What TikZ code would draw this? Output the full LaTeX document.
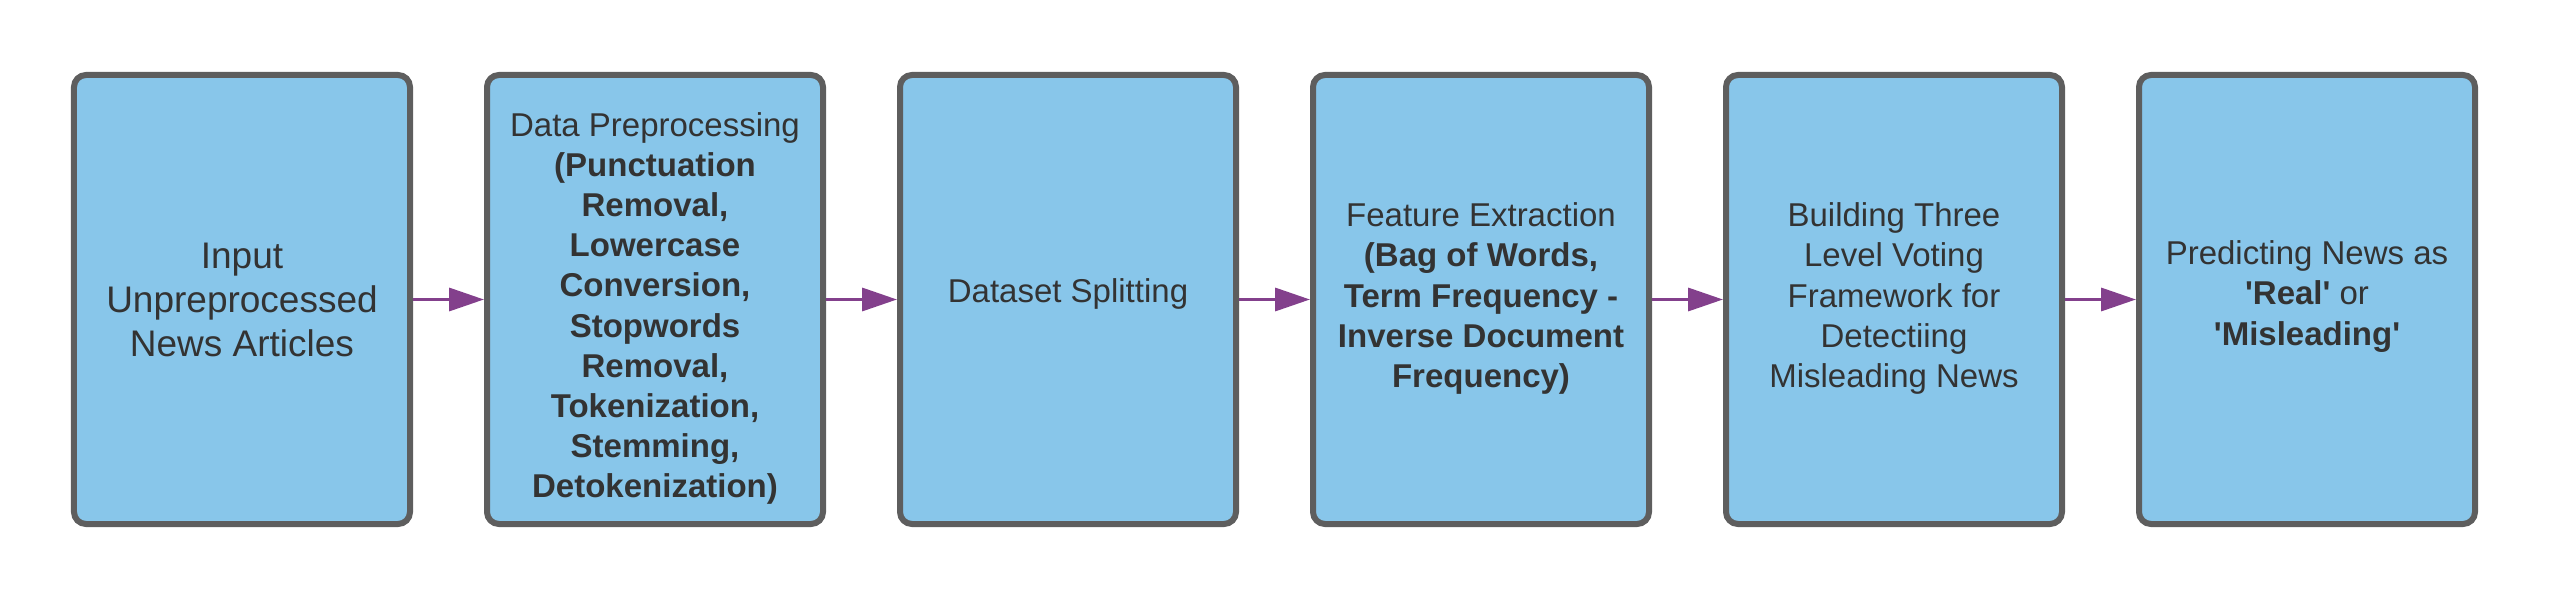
\documentclass[tikz,border=0pt]{standalone}
\usepackage{fontspec}
\newfontfamily\lsans{Liberation Sans}
\usetikzlibrary{arrows.meta}
\definecolor{boxfill}{HTML}{88C6EA}
\definecolor{boxline}{HTML}{5E5E5E}
\definecolor{arrcol}{HTML}{83408C}
\definecolor{txt}{HTML}{333333}
\begin{document}
\begin{tikzpicture}[x=1bp,y=-1bp,
  stepbox/.style={draw=boxline, fill=boxfill, line width=6bp, rounded corners=12bp,
    minimum width=336bp, minimum height=449bp, inner sep=0pt},
  steptext/.style={inner sep=0pt, align=center,
    text=txt, font=\lsans\fontsize{33bp}{40.1bp}\selectfont},
  bigtext/.style={font=\lsans\fontsize{37bp}{44bp}\selectfont},
  arr/.style={draw=arrcol, line width=3.5bp, -{Triangle[length=35bp,width=23bp]}}]
\useasboundingbox (0,0) rectangle (2550,600);
\node[stepbox] (b1) at (242,299.5) {};
\node[stepbox] (b2) at (655,299.5) {};
\node[stepbox] (b3) at (1068,299.5) {};
\node[stepbox] (b4) at (1481,299.5) {};
\node[stepbox] (b5) at (1894,299.5) {};
\node[stepbox] (b6) at (2307,299.5) {};
\node[steptext,bigtext] (t1) at (b1.center) {Input\\Unpreprocessed\\News Articles};
\node[steptext] (t2) at ([yshift=-9bp]b2.center) {Data Preprocessing\\\textbf{(Punctuation}\\\textbf{Removal,}\\\textbf{Lowercase}\\\textbf{Conversion,}\\\textbf{Stopwords}\\\textbf{Removal,}\\\textbf{Tokenization,}\\\textbf{Stemming,}\\\textbf{Detokenization)}};
\node[steptext] (t3) at ([yshift=6bp]b3.center) {Dataset Splitting};
\node[steptext] (t4) at ([yshift=1bp]b4.center) {Feature Extraction\\\textbf{(Bag of Words,}\\\textbf{Term Frequency -}\\\textbf{Inverse Document}\\\textbf{Frequency)}};
\node[steptext] (t5) at ([yshift=1bp]b5.center) {Building Three\\Level Voting\\Framework for\\Detectiing\\Misleading News};
\node[steptext] (t6) at ([yshift=3bp]b6.center) {Predicting News as\\\textbf{'Real'} or\\\textbf{'Misleading'}};
\draw[arr] (b1) -- (b2);
\draw[arr] (b2) -- (b3);
\draw[arr] (b3) -- (b4);
\draw[arr] (b4) -- (b5);
\draw[arr] (b5) -- (b6);
\end{tikzpicture}
\end{document}
